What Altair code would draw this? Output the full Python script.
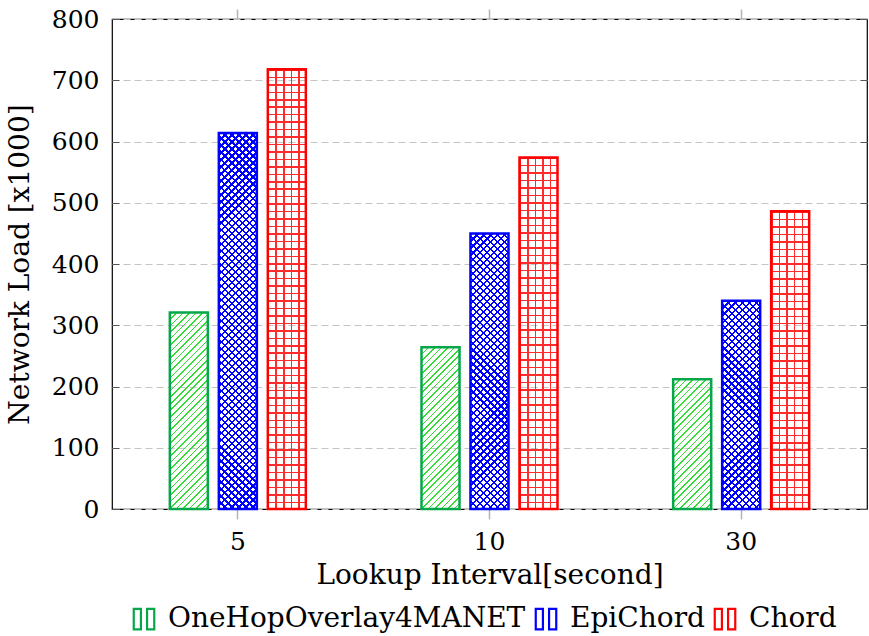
import altair as alt
import pandas as pd

# ---------------- data ----------------
intervals = ["5", "10", "30"]
series_names = ["OneHopOverlay4MANET", "EpiChord", "Chord"]
onehop_values = [321, 264, 212]
epichord_values = [614, 450, 340]
chord_values = [718, 574, 486]
y_ticks = [0, 100, 200, 300, 400, 500, 600, 700, 800]

# ---------------- styles ----------------
outline_colors = ["#06a64a", "#0000ff", "#ff0000"]
pattern_colors = ["#30dc30", "#0000ff", "#ff2a2a"]
FONT = "DejaVu Serif"
PLOT_W, PLOT_H = 755, 490
Y_MAX = 800
XO_PAD_INNER = 0.224
GROUP_STEP = PLOT_W / len(intervals)
GROUP_W = 136.0
X_PAD_INNER = 1 - GROUP_W / GROUP_STEP
X_PAD_OUTER = X_PAD_INNER / 2
BAR_STEP = GROUP_W / (len(series_names) - XO_PAD_INNER)
BAR_W = BAR_STEP * (1 - XO_PAD_INNER)

all_values = [onehop_values, epichord_values, chord_values]
rows = []
for s, vals in zip(series_names, all_values):
    for itv, v in zip(intervals, vals):
        rows.append({"interval": itv, "series": s, "value": v, "key": s + "|" + itv})
df = pd.DataFrame(rows)

CLEAR = "rgba(255,255,255,0)"


def stripe_stops(n, frac, color):
    stops = []
    for k in range(n):
        a, b, c = k / n, (k + frac) / n, (k + 1) / n
        stops += [
            {"offset": a, "color": color},
            {"offset": b, "color": color},
            {"offset": b, "color": CLEAR},
            {"offset": c, "color": CLEAR},
        ]
    return stops


def diag(W, H, period, frac, color, direction):
    r = H / W
    a = (1 + r) / (1 + r * r)
    n = max(1, round((W + H) / period))
    if direction == "ne":
        x1, y1, x2, y2 = 0, 0, a, a * r
    else:
        x1, y1, x2, y2 = 0, 1, a, 1 - a * r
    return {"gradient": "linear", "x1": x1, "y1": y1, "x2": x2, "y2": y2,
            "stops": stripe_stops(n, frac, color)}


def straight(L, period, frac, color, vertical_lines):
    n = max(1, round(L / period))
    if vertical_lines:
        x1, y1, x2, y2 = 0, 0, 1, 0
    else:
        x1, y1, x2, y2 = 0, 0, 0, 1
    return {"gradient": "linear", "x1": x1, "y1": y1, "x2": x2, "y2": y2,
            "stops": stripe_stops(n, frac, color)}


def patterns(si, W, H):
    col = pattern_colors[si]
    if si == 0:
        return [diag(W, H, 6.5, 0.24, col, "ne")]
    if si == 1:
        return [diag(W, H, 7.0, 0.32, col, "ne"), diag(W, H, 7.0, 0.32, col, "nw")]
    return [straight(W, 7.6, 0.2, col, True), straight(H, 7.5, 0.2, col, False)]


x_scale = alt.Scale(domain=intervals, paddingInner=X_PAD_INNER, paddingOuter=X_PAD_OUTER)
xo_scale = alt.Scale(domain=series_names, paddingInner=XO_PAD_INNER, paddingOuter=0)
y_scale = alt.Scale(domain=[0, Y_MAX], nice=False, zero=True)

x_plain = alt.X("interval:N", sort=intervals, scale=x_scale, axis=None)
xo_enc = alt.XOffset("series:N", sort=series_names, scale=xo_scale)
y_plain = alt.Y("value:Q", scale=y_scale, axis=None)

base = alt.Chart(df).encode(x=x_plain, xOffset=xo_enc, y=y_plain)

# layer carrying the y axis (labels, grid, title) - drawn first, invisible marks
y_axis_layer = alt.Chart(df).mark_bar(opacity=0).encode(
    x=x_plain,
    xOffset=xo_enc,
    y=alt.Y(
        "value:Q", scale=y_scale,
        axis=alt.Axis(
            orient="left", values=y_ticks, grid=True, gridDash=[7, 4], gridColor="#c4c4c4",
            gridWidth=1, ticks=False, domain=False, labelFontSize=25, labelPadding=13,
            labelColor="black", title="Network Load [x1000]", titleFontSize=28,
            titleFontWeight="normal", titleColor="black", titlePadding=17,
        ),
    ),
)

layers = [y_axis_layer]
for si, s in enumerate(series_names):
    for ii, itv in enumerate(intervals):
        v = all_values[si][ii]
        H = v / Y_MAX * PLOT_H
        key = s + "|" + itv
        for grad in patterns(si, BAR_W, H):
            layers.append(
                base.transform_filter(alt.datum.key == key).mark_bar(fill=grad, strokeWidth=0)
            )

legend_path = "M-1,-1H-0.3V1H-1Z M0.3,-1H1V1H0.3Z"

outline = alt.Chart(df).mark_bar(filled=False, strokeWidth=2.5).encode(
    x=alt.X(
        "interval:N", sort=intervals, scale=x_scale,
        axis=alt.Axis(
            orient="bottom", labelAngle=0, domain=False, ticks=True, tickSize=10,
            tickColor="#b4b4b4", tickWidth=1.5, labelFontSize=25, labelPadding=10,
            labelColor="black", title="Lookup Interval[second]", titleFontSize=28,
            titleFontWeight="normal", titleColor="black", titlePadding=7,
        ),
    ),
    xOffset=xo_enc,
    y=y_plain,
    color=alt.Color(
        "series:N", sort=series_names,
        scale=alt.Scale(domain=series_names, range=outline_colors),
        legend=alt.Legend(
            orient="none", legendX=18, legendY=586, direction="horizontal", title=None,
            symbolType=legend_path, symbolSize=420, symbolStrokeWidth=2.2,
            labelFontSize=28, labelColor="black", labelOffset=10, columnPadding=5,
            labelLimit=0,
        ),
    ),
)

top_axis = alt.Chart(df).mark_bar(opacity=0).encode(
    x=alt.X(
        "interval:N", sort=intervals, scale=x_scale,
        axis=alt.Axis(orient="top", labels=False, domain=False, ticks=True, tickSize=10,
                      tickColor="#b4b4b4", tickWidth=1.5, title=None),
    ),
    xOffset=xo_enc,
    y=alt.Y(
        "value:Q", scale=y_scale,
        axis=alt.Axis(orient="right", values=y_ticks, labels=False, domain=False, grid=False,
                      ticks=True, tickSize=7, offset=-7, tickColor="#555555", title=None),
    ),
)

left_ticks = alt.Chart(df).mark_bar(opacity=0).encode(
    x=x_plain,
    xOffset=xo_enc,
    y=alt.Y(
        "value:Q", scale=y_scale,
        axis=alt.Axis(orient="left", values=y_ticks, labels=False, domain=False, grid=False,
                      ticks=True, tickSize=7, offset=-7, tickColor="#555555", title=None),
    ),
)

chart = (
    alt.layer(*layers, outline, top_axis, left_ticks)
    .resolve_axis(x="independent", y="independent")
    .properties(
        width=PLOT_W, height=PLOT_H, autosize="none",
        padding={"left": 112, "top": 19, "right": 2, "bottom": 127},
    )
    .configure(font=FONT)
    .configure_view(stroke="black", strokeWidth=1.2)
    .configure_axis(labelFont=FONT, titleFont=FONT)
    .configure_legend(labelFont=FONT)
)

chart.save("out.html", embed_options={"renderer": "svg", "actions": False})
